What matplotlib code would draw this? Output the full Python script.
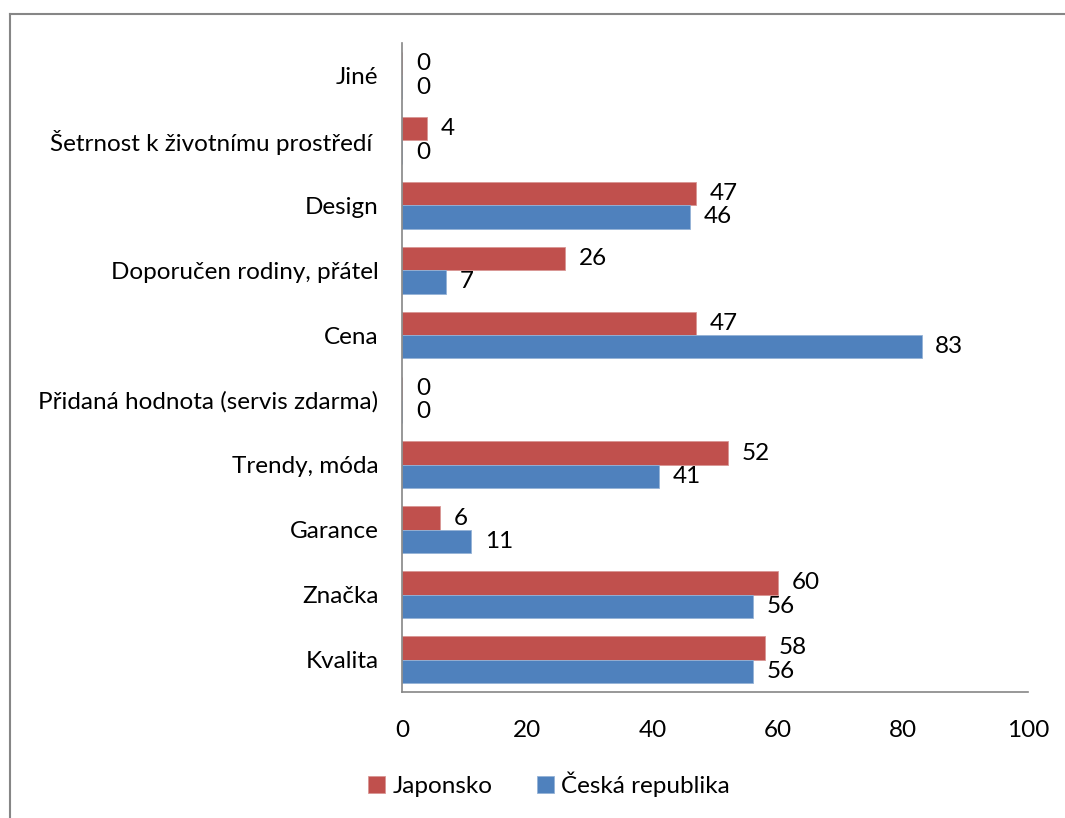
import numpy as np
import matplotlib
matplotlib.use("Agg")
import matplotlib.pyplot as plt
from matplotlib.lines import Line2D

plt.rcParams['font.family'] = ['Lato', 'DejaVu Sans']

# data (bottom -> top)
categories = ["Kvalita", "Značka", "Garance", "Trendy, móda",
              "Přidaná hodnota (servis zdarma)", "Cena",
              "Doporučen rodiny, přátel", "Design",
              "Šetrnost k životnímu prostředí ", "Jiné"]
japonsko = [58, 60, 6, 52, 0, 47, 26, 47, 4, 0]
cesko = [56, 56, 11, 41, 0, 83, 7, 46, 0, 0]

RED = "#C0504D"
BLUE = "#4F81BD"
FS = 17.5

fig = plt.figure(figsize=(10.65, 8.18), dpi=100)
ax = fig.add_axes([402 / 1065, 1 - 692 / 818, 626 / 1065, 649 / 818])

y = np.arange(len(categories))
h = 0.36
bars_j = ax.barh(y + h / 2, japonsko, height=h, color=RED, edgecolor="#D99694", linewidth=0.6, label="Japonsko")
bars_c = ax.barh(y - h / 2, cesko, height=h, color=BLUE, edgecolor="#95B3D7", linewidth=0.6, label="Česká republika")

for bars, vals in ((bars_j, japonsko), (bars_c, cesko)):
    for b, v in zip(bars, vals):
        ax.text(v + 2.2, b.get_y() + b.get_height() / 2, str(v),
                va="center", ha="left", fontsize=FS)

ax.set_xlim(0, 100)
ax.set_ylim(-0.5, len(categories) - 0.5)
ax.set_xticks(range(0, 101, 20))
ax.set_yticks(y)
ax.set_yticklabels(categories)
ax.tick_params(axis="both", length=0, labelsize=FS)
ax.tick_params(axis="y", pad=17)
ax.tick_params(axis="x", pad=20)
for s in ("top", "right"):
    ax.spines[s].set_visible(False)
for s in ("left", "bottom"):
    ax.spines[s].set_color("#868686")
    ax.spines[s].set_linewidth(1.2)

fig.legend(handles=[bars_j, bars_c], labels=["Japonsko", "Česká republika"],
           loc="center", bbox_to_anchor=(549 / 1065, 1 - 784 / 818), ncol=2,
           frameon=False, fontsize=FS, handlelength=0.7, handleheight=0.7,
           handletextpad=0.3, columnspacing=1.8)

# chart area border (only left and top visible)
fig.add_artist(Line2D([9.5 / 1065, 9.5 / 1065], [0, 1 - 14 / 818], transform=fig.transFigure, color="#868686", lw=1.5))
fig.add_artist(Line2D([9.5 / 1065, 1], [1 - 14 / 818, 1 - 14 / 818], transform=fig.transFigure, color="#868686", lw=1.5))

fig.savefig("out.png", dpi=100)
